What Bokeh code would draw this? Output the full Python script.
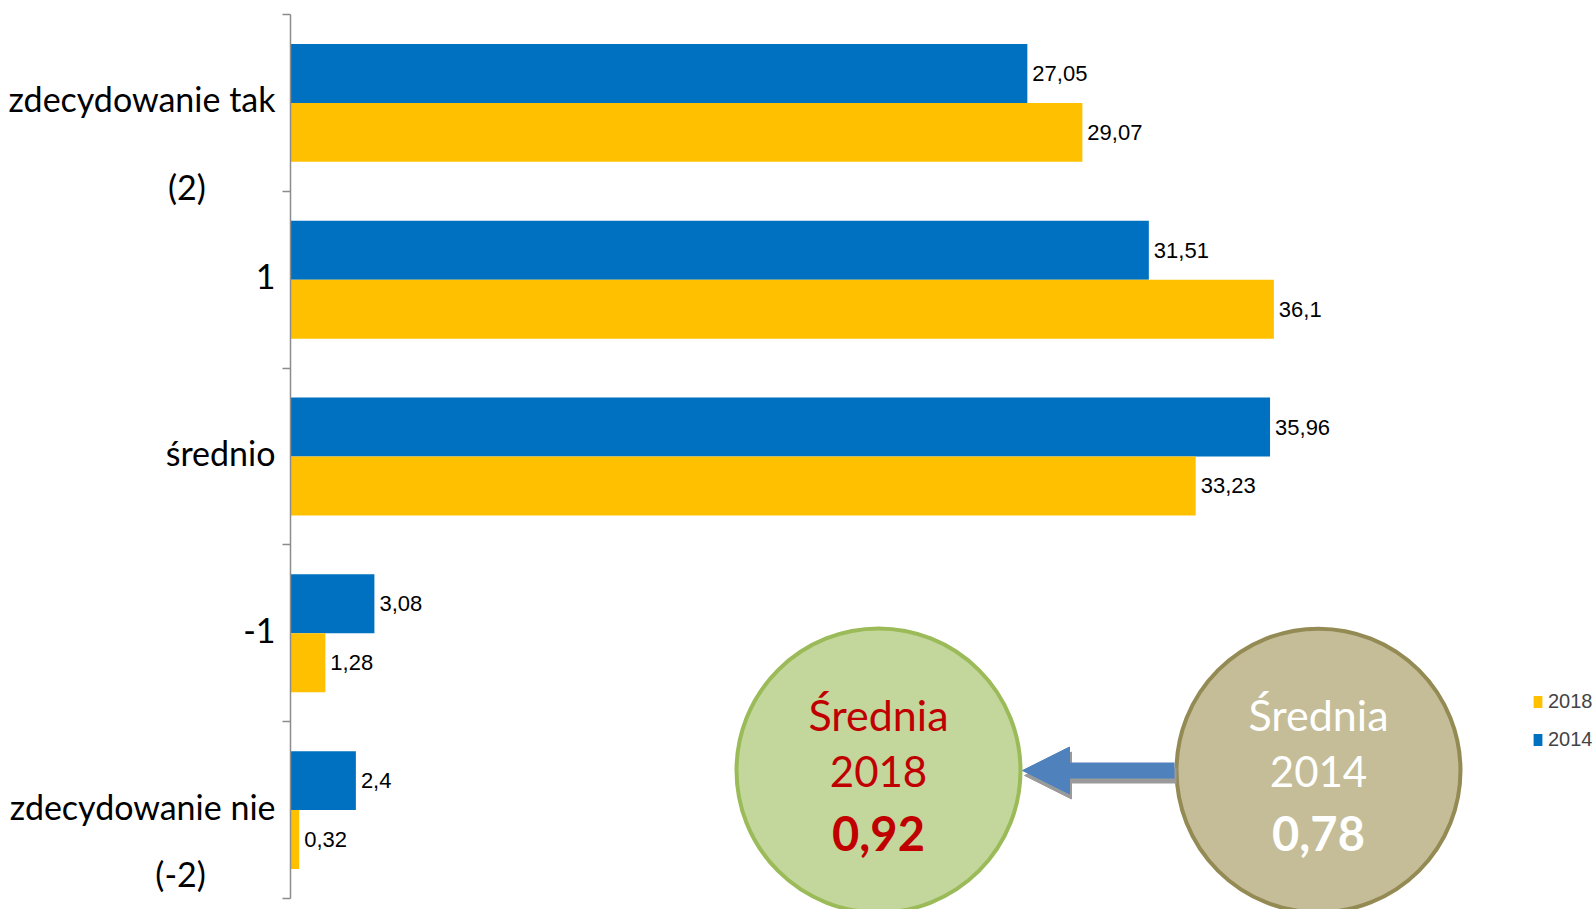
from bokeh.plotting import figure
from bokeh.models import (Range1d, FixedTicker, ColumnDataSource, Legend,
                          LegendItem, Arrow, NormalHead)
from bokeh.core.properties import value
from bokeh.embed import file_html
from bokeh.resources import INLINE

# ---------------- data ----------------
categories = ["zdecydowanie tak", "1", "średnio", "-1", "zdecydowanie nie"]
sub_labels = ["(2)", "", "", "", "(-2)"]
values_2014 = [27.05, 31.51, 35.96, 3.08, 2.4]
values_2018 = [29.07, 36.1, 33.23, 1.28, 0.32]
series_names = ["2018", "2014"]
mean_title = "Średnia"
mean_years = ["2018", "2014"]
mean_values = [0.92, 0.78]

# ---------------- styles ----------------
BLUE = "#0070C0"
YELLOW = "#FFC000"
AXIS_GRAY = "#8C8C8C"
NARROW_STR = "'Liberation Sans Narrow', 'Arial Narrow', 'Liberation Sans', sans-serif"
NARROW = value(NARROW_STR)
CAL = value("Lato")

W, H = 1596, 909
LEFT, TOP = 290, 14
PX_X = 27.24           # px per x unit
PX_Y = 176.8           # px per category
frame_w = W - LEFT
frame_h = H - TOP
x_end = frame_w / PX_X
n = len(categories)
y_start = n - frame_h / PX_Y


def fmt(v):
    return f"{v:g}".replace(".", ",")


centers = [n - 0.5 - i for i in range(n)]
off = 1 / 6
bh = 1 / 3

p = figure(width=W, height=H, x_range=Range1d(0, x_end), y_range=Range1d(y_start, n),
           output_backend="svg", toolbar_location=None, x_axis_location=None,
           min_border_left=LEFT, min_border_top=TOP, min_border_right=0, min_border_bottom=0,
           outline_line_color=None, background_fill_color="white", border_fill_color="white")
p.grid.visible = False

# y axis: category names at the centres, second lines ("(2)", "(-2)") as extra labels below
label_lift_px = 4
sub_offsets_px = [84, 0, 0, 0, 63]
sub_pad = [8, 0, 0, 0, 8]     # non-breaking spaces that shift the second line to the left
ticks = []
overrides = {}
for c, lab in zip(centers, categories):
    t = round(c + label_lift_px / PX_Y, 4)
    ticks.append(t)
    overrides[t] = lab
for c, lab, o, pad in zip(centers, sub_labels, sub_offsets_px, sub_pad):
    if lab:
        t = round(c - o / PX_Y, 4)
        ticks.append(t)
        overrides[t] = lab + "\u00a0" * pad

ya = p.yaxis[0]
ya.ticker = FixedTicker(ticks=ticks, minor_ticks=list(range(n + 1)))
ya.major_label_overrides = overrides
ya.bounds = (0, n)
ya.axis_line_color = AXIS_GRAY
ya.axis_line_width = 1.5
ya.major_tick_line_color = None
ya.major_tick_out = 0
ya.major_tick_in = 0
ya.minor_tick_line_color = AXIS_GRAY
ya.minor_tick_line_width = 1.5
ya.minor_tick_out = 8
ya.minor_tick_in = 0
ya.major_label_text_font = "Lato"
ya.major_label_text_font_size = "34px"
ya.major_label_text_color = "black"
ya.major_label_standoff = 7

# bars
src14 = ColumnDataSource(dict(y=[c + off for c in centers], v=values_2014,
                              t=[fmt(v) for v in values_2014]))
src18 = ColumnDataSource(dict(y=[c - off for c in centers], v=values_2018,
                              t=[fmt(v) for v in values_2018]))
r14 = p.hbar(y="y", left=0, right="v", height=bh, source=src14, fill_color=BLUE, line_color=None)
r18 = p.hbar(y="y", left=0, right="v", height=bh, source=src18, fill_color=YELLOW, line_color=None)
for s in (src14, src18):
    p.text(x="v", y="y", text="t", source=s, x_offset=5, text_baseline="middle",
           text_align="left", text_font=NARROW, text_font_size="22px", text_color="black")

# mean circles
R = 142
cy = n - (770 - TOP) / PX_Y
cx = [(878 - LEFT) / PX_X, (1318 - LEFT) / PX_X]
fills = ["#C3D69B", "#C4BD97"]
borders = ["#9BBB59", "#948A54"]
txt_cols = ["#C00000", "white"]
p.circle(x=cx, y=[cy, cy], radius=R, radius_units="screen", fill_color=fills,
         line_color=borders, line_width=4)

# arrow (shadow + main)
x_from = cx[1] - (R + 2) / PX_X
x_to = cx[0] + (R + 2) / PX_X
p.add_layout(Arrow(x_start=x_from + 2 / PX_X, y_start=cy - 5 / PX_Y, x_end=x_to + 2 / PX_X,
                   y_end=cy - 5 / PX_Y, line_width=16, line_color="#9A9A9A",
                   end=NormalHead(size=47, fill_color="#9A9A9A", line_color="#9A9A9A")))
p.add_layout(Arrow(x_start=x_from, y_start=cy, x_end=x_to, y_end=cy, line_width=16,
                   line_color="#4F81BD",
                   end=NormalHead(size=47, fill_color="#4F81BD", line_color="#4F81BD")))

for i in range(2):
    p.text(x=[cx[i]], y=[cy], text=[mean_title], y_offset=-56, text_align="center",
           text_baseline="middle", text_font=CAL, text_font_size="43px", text_color=txt_cols[i])
    p.text(x=[cx[i]], y=[cy], text=[mean_years[i]], y_offset=1, text_align="center",
           text_baseline="middle", text_font=CAL, text_font_size="42px", text_color=txt_cols[i])
    p.text(x=[cx[i]], y=[cy], text=[fmt(mean_values[i])], y_offset=63, text_align="center",
           text_baseline="middle", text_font=CAL, text_font_size="47px", text_font_style="bold",
           text_color=txt_cols[i])

# legend
legend = Legend(items=[LegendItem(label=series_names[0], renderers=[r18]),
                       LegendItem(label=series_names[1], renderers=[r14])],
                location=(1242, 158), glyph_width=11, glyph_height=15, label_standoff=5,
                spacing=15, padding=0, margin=0, border_line_color=None,
                background_fill_alpha=0, label_text_font=NARROW_STR,
                label_text_font_size="20px", label_height=22)
p.add_layout(legend)

open("out.html", "w").write(file_html(p, INLINE))
